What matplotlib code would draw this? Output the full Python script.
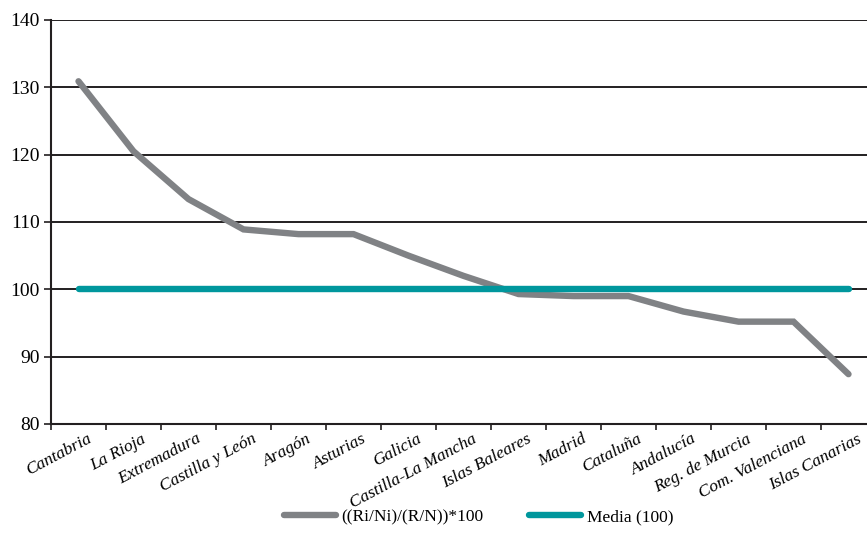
import matplotlib.pyplot as plt
from matplotlib.transforms import ScaledTranslation

regiones = ["Cantabria", "La Rioja", "Extremadura", "Castilla y León", "Aragón",
            "Asturias", "Galicia", "Castilla-La Mancha", "Islas Baleares", "Madrid",
            "Cataluña", "Andalucía", "Reg. de Murcia", "Com. Valenciana", "Islas Canarias"]
indice = [130.9, 120.5, 113.4, 108.9, 108.2, 108.2, 105.0, 102.0, 99.3, 99.0,
          99.0, 96.7, 95.2, 95.2, 87.4]
media = [100] * len(regiones)

plt.rcParams['font.family'] = ['Liberation Serif', 'DejaVu Serif']

fig = plt.figure(figsize=(8.67, 5.5), dpi=100)
# the plot area runs past the right edge of the figure on purpose
ax = fig.add_axes([51 / 867, 126 / 550, 825 / 867, 404 / 550])

x = range(len(regiones))
ax.plot(x, indice, color='#808285', lw=4.6, solid_capstyle='round',
        solid_joinstyle='miter', label='((Ri/Ni)/(R/N))*100', zorder=3)
ax.plot(x, media, color='#00979d', lw=4.6, solid_capstyle='round',
        label='Media (100)', zorder=4)

ax.set_ylim(80, 140)
ax.set_yticks(range(80, 141, 10))
ax.set_xlim(-0.5, len(regiones) - 0.5)
ax.yaxis.grid(True, color='#231f20', lw=1.4)
ax.set_axisbelow(True)

# ticks on the category boundaries, labels at the centres
ax.set_xticks([i - 0.5 for i in x])
ax.set_xticklabels([])
ax.set_xticks(list(x), minor=True)
ax.set_xticklabels(regiones, minor=True, rotation=28, ha='right',
                   rotation_mode='anchor', style='italic', fontsize=12.5)
ax.tick_params(axis='x', which='minor', length=0, pad=5)
ax.tick_params(axis='x', which='major', length=4, width=1.2, color='#231f20')
ax.tick_params(axis='y', length=5, width=1.2, color='#231f20', labelsize=14, pad=3)

# nudge the rotated labels a little to the right
shift = ScaledTranslation(8 / 100, 0, fig.dpi_scale_trans)
for lbl in ax.get_xticklabels(minor=True):
    lbl.set_transform(lbl.get_transform() + shift)

for s in ['top', 'right']:
    ax.spines[s].set_visible(False)
for s in ['left', 'bottom']:
    ax.spines[s].set_color('#231f20')
    ax.spines[s].set_linewidth(1.5)

fig.legend(loc='center', bbox_to_anchor=(0.552, 0.06), ncol=2, frameon=False,
           fontsize=12.5, handlelength=3.0, columnspacing=2.6, handletextpad=0.35)

plt.savefig('out.png', dpi=100)
